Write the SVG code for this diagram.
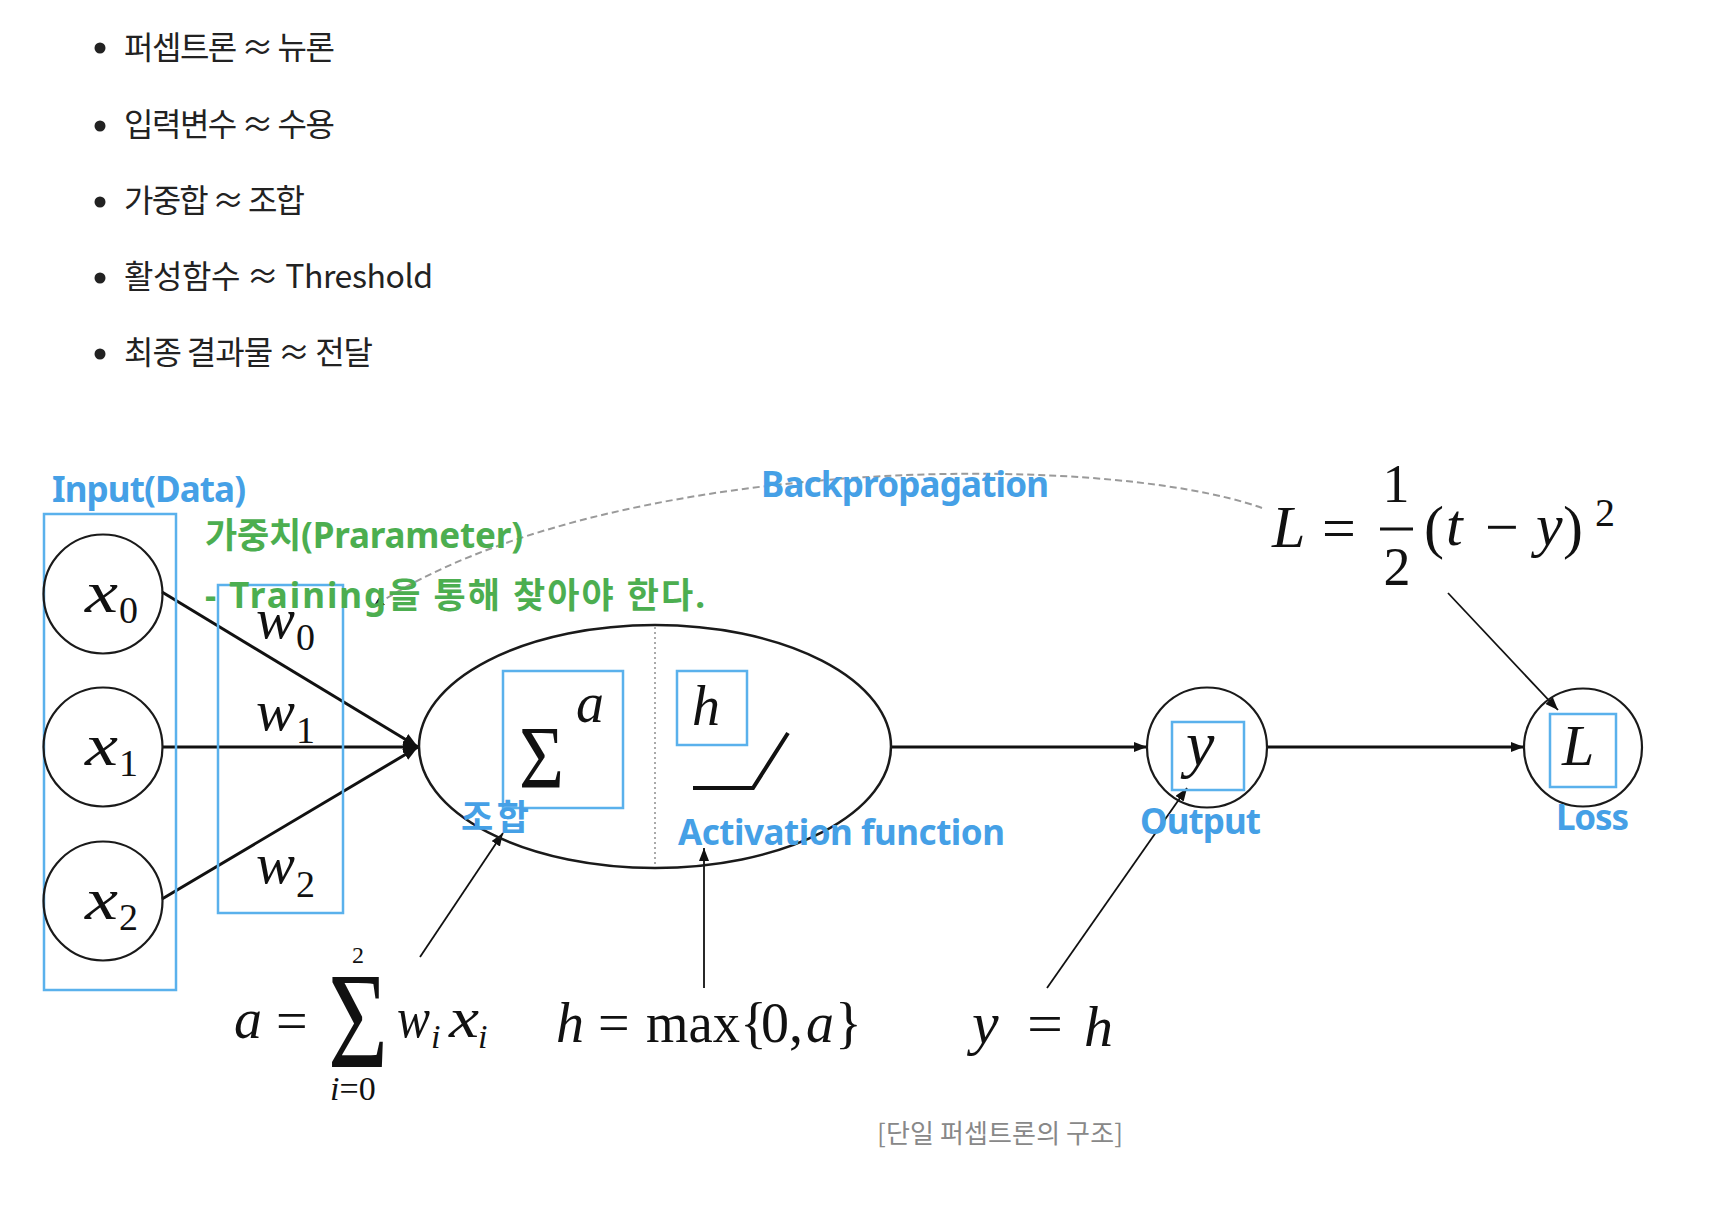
<svg xmlns="http://www.w3.org/2000/svg" width="1722" height="1212" viewBox="0 0 1722 1212">
<defs>
<style>
.bul{font-family:"Noto Sans CJK KR","Noto Sans",sans-serif;font-size:32px;fill:#222;}
.m{font-family:"Liberation Serif","Times New Roman",serif;fill:#111;}
.mi{font-family:"Liberation Serif","Times New Roman",serif;font-style:italic;fill:#111;}
.blue{font-family:"Noto Sans","Noto Sans CJK KR",sans-serif;font-weight:700;font-size:35px;fill:#45a0e6;}
.green{font-family:"Noto Sans","Noto Sans CJK KR",sans-serif;font-weight:700;font-size:35px;fill:#4cae50;}
.cap{font-family:"Noto Sans CJK KR",sans-serif;font-size:26px;fill:#888;}
.box{fill:none;stroke:#5ab1ec;stroke-width:2.5;}
.node{fill:none;stroke:#1a1a1a;stroke-width:2.2;}
.edge{stroke:#111;stroke-width:3;fill:none;}
.thin{stroke:#111;stroke-width:1.8;fill:none;}
</style>
<marker id="ah" markerUnits="userSpaceOnUse" markerWidth="16" markerHeight="12" refX="15" refY="6" orient="auto"><path d="M0,0 L15,6 L0,12 z" fill="#111"/></marker>
<marker id="as" markerUnits="userSpaceOnUse" markerWidth="14" markerHeight="10" refX="13" refY="5" orient="auto"><path d="M0,0 L13,5 L0,10 z" fill="#111"/></marker>
<marker id="ad" markerUnits="userSpaceOnUse" markerWidth="12" markerHeight="10" refX="11" refY="5" orient="auto"><path d="M0,0 L11,5 L0,10 z" fill="#222"/></marker>
</defs>
<rect width="1722" height="1212" fill="#fff"/>

<g id="bullets">
<circle cx="100" cy="48" r="5.5" fill="#222"/>
<text class="bul" x="124" y="59" textLength="211">퍼셉트론 ≈ 뉴론</text>
<circle cx="100" cy="126" r="5.5" fill="#222"/>
<text class="bul" x="124" y="136" textLength="211">입력변수 ≈ 수용</text>
<circle cx="100" cy="202" r="5.5" fill="#222"/>
<text class="bul" x="124" y="212" textLength="181">가중합 ≈ 조합</text>
<circle cx="100" cy="278" r="5.5" fill="#222"/>
<text class="bul" x="124" y="288" textLength="309">활성함수 ≈ Threshold</text>
<circle cx="100" cy="354" r="5.5" fill="#222"/>
<text class="bul" x="124" y="364" textLength="249">최종 결과물 ≈ 전달</text>
</g>

<g id="connectors">
<line class="edge" x1="162" y1="592" x2="418" y2="747" marker-end="url(#ah)"/>
<line class="edge" x1="163" y1="747" x2="418" y2="747" marker-end="url(#ah)"/>
<line class="edge" x1="162" y1="899" x2="418" y2="747" marker-end="url(#ah)"/>
<line class="edge" x1="892" y1="747" x2="1147" y2="747" marker-end="url(#as)"/>
<line class="edge" x1="1267" y1="747" x2="1524" y2="747" marker-end="url(#as)"/>
<line class="thin" x1="420" y1="957" x2="503" y2="833" marker-end="url(#as)"/>
<line class="thin" x1="704" y1="988" x2="704" y2="848" marker-end="url(#as)"/>
<line class="thin" x1="1047" y1="988" x2="1187" y2="788" marker-end="url(#as)"/>
<line class="thin" x1="1448" y1="593" x2="1558" y2="710" marker-end="url(#as)"/>
<path d="M1262,508 C1100,450 600,455 373,607" fill="none" stroke="#9a9a9a" stroke-width="2" stroke-dasharray="7,4" marker-end="url(#ad)"/>
</g>

<g id="input-box"><rect class="box" x="44" y="514" width="132" height="476"/></g>
<g id="node-x0"><circle class="node" cx="103" cy="594" r="59.5"/>
<text class="mi" x="85" y="612" font-size="60" textLength="33" lengthAdjust="spacingAndGlyphs">x</text><text class="m" x="119" y="623" font-size="38">0</text></g>
<g id="node-x1"><circle class="node" cx="103" cy="747" r="59.5"/>
<text class="mi" x="85" y="765" font-size="60" textLength="33" lengthAdjust="spacingAndGlyphs">x</text><text class="m" x="119" y="776" font-size="38">1</text></g>
<g id="node-x2"><circle class="node" cx="103" cy="901" r="59.5"/>
<text class="mi" x="85" y="919" font-size="60" textLength="33" lengthAdjust="spacingAndGlyphs">x</text><text class="m" x="119" y="930" font-size="38">2</text></g>

<g id="weights">
<rect class="box" x="218" y="585" width="125" height="328"/>
<text class="mi" x="256" y="638" font-size="56" textLength="39" lengthAdjust="spacingAndGlyphs">w</text><text class="m" x="296" y="650" font-size="38">0</text>
<text class="mi" x="256" y="730" font-size="56" textLength="39" lengthAdjust="spacingAndGlyphs">w</text><text class="m" x="296" y="743" font-size="38">1</text>
<text class="mi" x="256" y="883" font-size="56" textLength="39" lengthAdjust="spacingAndGlyphs">w</text><text class="m" x="296" y="897" font-size="38">2</text>
</g>

<g id="neuron">
<ellipse cx="655" cy="746.5" rx="236" ry="121.5" fill="none" stroke="#1a1a1a" stroke-width="2.5"/>
<line x1="655" y1="627" x2="655" y2="866" stroke="#aaa" stroke-width="2" stroke-dasharray="2,3"/>
<rect class="box" x="503" y="671" width="120" height="137"/>
<text class="m" x="519" y="787" font-size="88" textLength="45" lengthAdjust="spacingAndGlyphs">Σ</text>
<text class="mi" x="576" y="722" font-size="56">a</text>
<rect class="box" x="677" y="671" width="70" height="74"/>
<text class="mi" x="692" y="725" font-size="56">h</text>
<polyline points="693,788 753,788 788,733" fill="none" stroke="#111" stroke-width="4"/>
</g>

<g id="node-output">
<circle class="node" cx="1207" cy="747.5" r="60"/>
<rect class="box" x="1172" y="722" width="72" height="68"/>
<text class="mi" x="1186" y="765" font-size="64">y</text>
</g>
<g id="node-loss">
<circle class="node" cx="1583" cy="747.5" r="59"/>
<rect class="box" x="1550" y="714" width="66" height="73"/>
<text class="mi" x="1562" y="765" font-size="58">L</text>
</g>

<g id="loss-formula">
<text class="mi" x="1272" y="547" font-size="60">L</text>
<text class="m" x="1322" y="548" font-size="60">=</text>
<text class="m" x="1396" y="502" font-size="54" text-anchor="middle">1</text>
<line x1="1380" y1="529" x2="1413" y2="529" stroke="#111" stroke-width="3"/>
<text class="m" x="1397" y="585" font-size="54" text-anchor="middle">2</text>
<text class="m" x="1424" y="547" font-size="60">(</text>
<text class="mi" x="1446" y="545" font-size="60">t</text>
<text class="m" x="1485" y="547" font-size="60">−</text>
<text class="mi" x="1536" y="545" font-size="60">y</text>
<text class="m" x="1563" y="547" font-size="60">)</text>
<text class="m" x="1595" y="526" font-size="40">2</text>
</g>

<g id="formulas">
<text class="mi" x="234" y="1038" font-size="56">a</text>
<text class="m" x="276" y="1040" font-size="56">=</text>
<text class="m" x="328" y="1067" font-size="138" textLength="60" lengthAdjust="spacingAndGlyphs">Σ</text>
<text class="m" x="358" y="963" font-size="24" text-anchor="middle">2</text>
<text class="m" x="330" y="1100" font-size="34"><tspan font-style="italic">i</tspan>=0</text>
<text class="mi" x="397" y="1037" font-size="56" textLength="33" lengthAdjust="spacingAndGlyphs">w</text><text class="mi" x="431" y="1048" font-size="34">i</text>
<text class="mi" x="449" y="1037" font-size="56" textLength="30" lengthAdjust="spacingAndGlyphs">x</text><text class="mi" x="478" y="1048" font-size="34">i</text>
<text class="mi" x="556" y="1042" font-size="56">h</text>
<text class="m" x="598" y="1042" font-size="56">=</text>
<text class="m" x="646" y="1042" font-size="56" textLength="94" lengthAdjust="spacingAndGlyphs">max</text>
<text class="m" x="740" y="1042" font-size="56">{</text>
<text class="m" x="761" y="1042" font-size="56">0</text>
<text class="m" x="789" y="1042" font-size="56">,</text>
<text class="mi" x="806" y="1042" font-size="56">a</text>
<text class="m" x="835" y="1042" font-size="56">}</text>
<text class="mi" x="972" y="1043" font-size="60">y</text>
<text class="m" x="1027" y="1043" font-size="58" textLength="36" lengthAdjust="spacingAndGlyphs">=</text>
<text class="mi" x="1084" y="1046" font-size="58">h</text>
</g>

<g id="labels">
<text class="blue" x="52" y="502" textLength="194">Input(Data)</text>
<text class="blue" x="761" y="497" textLength="288">Backpropagation</text>
<text class="green" x="205" y="548" textLength="318">가중치(Prarameter)</text>
<text class="green" x="205" y="608" textLength="500">- Training을 통해 찾아야 한다.</text>
<text class="blue" x="461" y="830" textLength="68">조합</text>
<text class="blue" x="678" y="845" textLength="327">Activation function</text>
<text class="blue" x="1140" y="834" textLength="121">Output</text>
<text class="blue" x="1556" y="830" textLength="73">Loss</text>
<text class="cap" x="877" y="1143" textLength="246">[단일 퍼셉트론의 구조]</text>
</g>
</svg>
